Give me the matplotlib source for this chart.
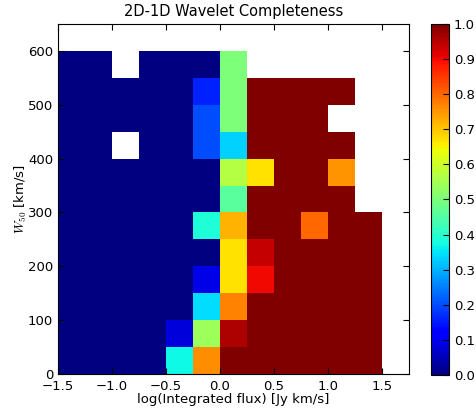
import matplotlib
matplotlib.use("Agg")
import matplotlib.pyplot as plt
import numpy as np

nan = np.nan

# bin edges
flux_edges = np.arange(-1.5, 1.76, 0.25)
w50_edges = np.arange(0, 651, 50)

# completeness per bin, rows from W50 = 0 upwards, columns from log flux = -1.5
completeness = np.array([
    [0, 0, 0, 0, 0.37, 0.76, 1.00, 1.00, 1, 1, 1, 1, nan],
    [0, 0, 0, 0, 0.08, 0.54, 0.96, 1.00, 1, 1, 1, 1, nan],
    [0, 0, 0, 0, 0, 0.34, 0.77, 1.00, 1, 1, 1, 1, nan],
    [0, 0, 0, 0, 0, 0.09, 0.67, 0.90, 1, 1, 1, 1, nan],
    [0, 0, 0, 0, 0, 0, 0.67, 0.94, 1, 1, 1, 1, nan],
    [0, 0, 0, 0, 0, 0.39, 0.72, 1.00, 1, 0.80, 1, 1, nan],
    [0, 0, 0, 0, 0, 0, 0.46, 1.00, 1, 1, 1, nan, nan],
    [0, 0, 0, 0, 0, 0, 0.57, 0.67, 1, 1, 0.75, nan, nan],
    [0, 0, nan, 0, 0, 0.20, 0.33, 1.00, 1, 1, 1, nan, nan],
    [0, 0, 0, 0, 0, 0.20, 0.50, 1.00, 1, 1, nan, nan, nan],
    [0, 0, 0, 0, 0, 0.16, 0.50, 1.00, 1, 1, 1, nan, nan],
    [0, 0, nan, 0, 0, 0, 0.50, nan, nan, nan, nan, nan, nan],
    [nan] * 13,
])

xticks = [-1.5, -1.0, -0.5, 0.0, 0.5, 1.0, 1.5]
yticks = [0, 100, 200, 300, 400, 500, 600]
cbar_ticks = np.arange(0, 1.01, 0.1)

plt.rcParams['mathtext.fontset'] = 'cm'

fig = plt.figure(figsize=(4.76, 4.12), dpi=100)
ax = fig.add_axes([0.1218, 0.0922, 0.7374, 0.8495])
cax = fig.add_axes([0.9055, 0.0898, 0.0378, 0.852])

mesh = ax.pcolormesh(flux_edges, w50_edges, np.ma.masked_invalid(completeness),
                     cmap='jet', vmin=0, vmax=1)

ax.set_xlim(-1.5, 1.75)
ax.set_ylim(0, 650)
ax.set_xticks(xticks)
ax.set_yticks(yticks)
ax.tick_params(direction='in', top=True, right=True, labelsize=9.5, length=4)
ax.tick_params(axis='x', pad=4)
ax.set_title("2D-1D Wavelet Completeness", fontsize=10.5)
ax.set_xlabel("log(Integrated flux) [Jy km/s]", fontsize=9.5, labelpad=0)
ax.set_ylabel(r"$W_{50}$ [km/s]", fontsize=9.5, labelpad=-1)

cb = fig.colorbar(mesh, cax=cax, ticks=cbar_ticks)
cb.ax.tick_params(direction='in', labelsize=9.5, length=4)
cb.ax.set_yticklabels(["%.1f" % t for t in cbar_ticks])

fig.savefig("out.png", dpi=100)
